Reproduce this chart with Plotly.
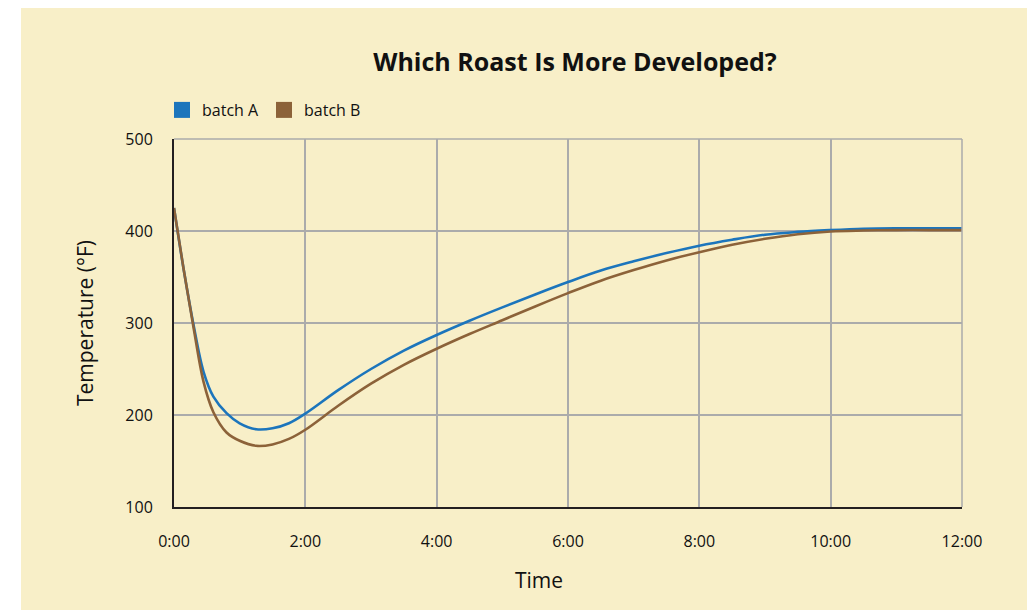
import plotly.graph_objects as go

# time in minutes
t_a = [0, 0.15, 0.3, 0.45, 0.6, 0.8, 1.0, 1.25, 1.5, 1.75, 2.0, 2.5, 3.0, 3.5, 4.0, 4.5, 5.0, 5.5, 6.0,
       6.5, 7.0, 7.5, 8.0, 8.5, 9.0, 9.5, 10.0, 10.5, 11.0, 11.5, 12.0]
temp_a = [425, 357, 297, 247, 220, 202, 191, 184.5, 185.5, 191, 201.5, 227, 250, 270, 287, 302.5, 317, 331, 344.5,
          357, 367, 376, 384, 390.5, 396, 399, 401, 402.5, 403, 403, 403]
t_b = [0, 0.15, 0.3, 0.45, 0.6, 0.8, 1.0, 1.25, 1.5, 1.75, 2.0, 2.5, 3.0, 3.5, 4.0, 4.5, 5.0, 5.5, 6.0,
       6.5, 7.0, 7.5, 8.0, 8.5, 9.0, 9.5, 10.0, 10.5, 11.0, 11.5, 12.0]
temp_b = [425, 357, 294, 236, 203, 181, 172, 166.5, 168, 174, 184, 210, 234, 254.5, 272, 288, 303, 318, 332.5,
          346, 357.5, 368, 377, 385, 391.5, 396.5, 399.5, 400.5, 401, 401, 401]

x_ticks = [0, 2, 4, 6, 8, 10, 12]
x_labels = ["0:00", "2:00", "4:00", "6:00", "8:00", "10:00", "12:00"]
series_names = ["batch A", "batch B"]
colors = ["#1C75BC", "#8C6239"]

CREAM = "#F8EFC8"
FONT = "Open Sans"

fig = go.Figure()
for xs, ys, c in [(t_a, temp_a, colors[0]), (t_b, temp_b, colors[1])]:
    fig.add_trace(go.Scatter(x=xs, y=ys, mode="lines", line=dict(color=c, width=2.6, shape="spline", smoothing=1.0),
                             showlegend=False, hoverinfo="skip"))
for name, c in zip(series_names, colors):
    fig.add_trace(go.Scatter(x=[None], y=[None], mode="markers", name=name,
                             marker=dict(symbol="square", size=16, color=c)))

W, H = 1027, 602
L, T, PW, PH = 166, 131, 788, 368
fig.add_shape(type="rect", xref="paper", yref="paper", x0=(13 - L) / PW, x1=1.2, y0=-0.4, y1=(T + PH) / PH,
              fillcolor=CREAM, line=dict(width=0), layer="below")

fig.update_layout(
    width=W, height=H,
    margin=dict(l=L, r=W - L - PW, t=T, b=H - T - PH),
    paper_bgcolor="white",
    plot_bgcolor="rgba(0,0,0,0)",
    font=dict(family=FONT, color="#111111", size=16),
    title=dict(text="<b>Which Roast Is More Developed?</b>", x=567 / W, xanchor="center",
               y=1 - 54 / H, yanchor="middle", font=dict(size=25, family=FONT, color="#111111")),
    legend=dict(orientation="h", x=-12 / PW, xanchor="left", y=1.0 + 29 / PH, yanchor="middle",
                bgcolor="rgba(0,0,0,0)", font=dict(size=16, family=FONT), itemwidth=30,
                tracegroupgap=0),
    showlegend=True,
)
fig.add_annotation(text="Time", xref="paper", yref="paper", x=(539 - 174) / PW, y=-(580 - 507) / PH,
                   xanchor="center", yanchor="middle", showarrow=False, font=dict(size=21, family=FONT))
fig.update_xaxes(range=[0, 12], tickvals=x_ticks, ticktext=x_labels, showgrid=True, gridcolor="#ABABAB",
                 gridwidth=1.5, showline=True, linecolor="#231F20", linewidth=2, zeroline=False,
                 ticks="", ticklabelstandoff=19, tickfont=dict(size=16))
fig.update_yaxes(range=[100, 500], dtick=100, tick0=100, showgrid=True, gridcolor="#ABABAB",
                 gridwidth=1.5, showline=True, linecolor="#231F20", linewidth=2, zeroline=False,
                 ticks="", ticklabelstandoff=16, tickfont=dict(size=16),
                 title=dict(text="Temperature (°F)", font=dict(size=21), standoff=26))
fig.add_shape(type="line", xref="paper", yref="paper", x0=0, x1=1, y0=1, y1=1, line=dict(color="#ABABAB", width=1.5))
fig.add_shape(type="line", xref="paper", yref="paper", x0=1, x1=1, y0=0, y1=1, line=dict(color="#ABABAB", width=1.5))

fig.write_html("out.html")
